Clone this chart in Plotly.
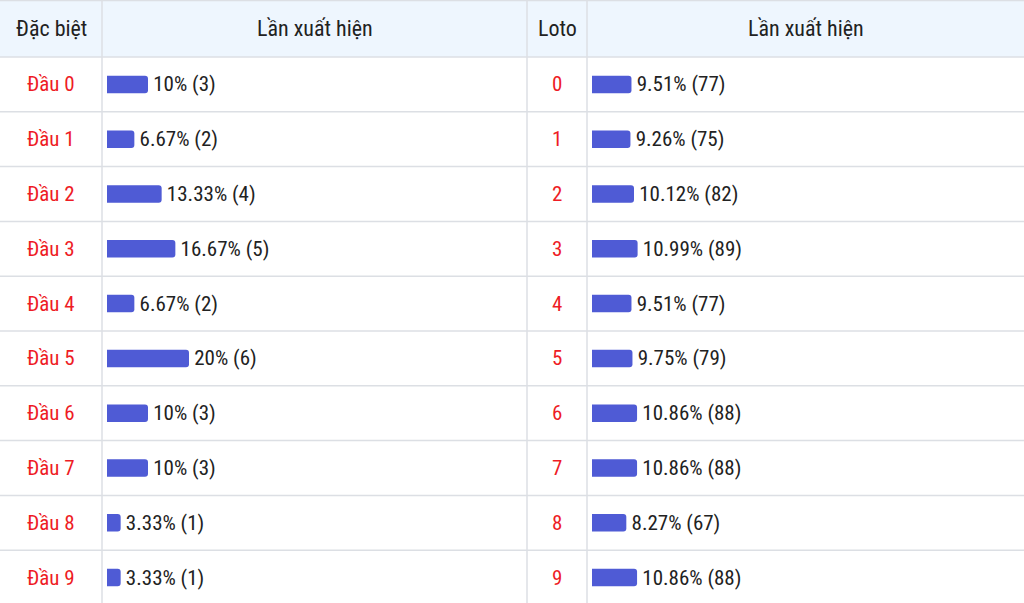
import plotly.graph_objects as go

# ---- data ----
db_labels = ["Đầu 0", "Đầu 1", "Đầu 2", "Đầu 3", "Đầu 4", "Đầu 5", "Đầu 6", "Đầu 7", "Đầu 8", "Đầu 9"]
db_pct = [10, 6.67, 13.33, 16.67, 6.67, 20, 10, 10, 3.33, 3.33]
db_pct_text = ["10%", "6.67%", "13.33%", "16.67%", "6.67%", "20%", "10%", "10%", "3.33%", "3.33%"]
db_count = [3, 2, 4, 5, 2, 6, 3, 3, 1, 1]

loto_labels = ["0", "1", "2", "3", "4", "5", "6", "7", "8", "9"]
loto_pct = [9.51, 9.26, 10.12, 10.99, 9.51, 9.75, 10.86, 10.86, 8.27, 10.86]
loto_count = [77, 75, 82, 89, 77, 79, 88, 88, 67, 88]

headers = ["Đặc biệt", "Lần xuất hiện", "Loto", "Lần xuất hiện"]

W, H = 1024, 603
FONT = "Liberation Sans Narrow, Roboto Condensed, Arial Narrow, Liberation Sans, Arial, sans-serif"
BAR = "#4f5bd5"
RED = "#ee1c25"
TXT = "#222222"
GRID = "#dcdfe4"

col_x = [0, 102, 527, 587, W]  # column borders (px)

rows = list(range(len(db_labels)))
ROW_PX = 54.8
HEADER_PX = 57
y_top = -0.5 - HEADER_PX / ROW_PX
y_bot = -0.5 + (H - HEADER_PX) / ROW_PX

fig = go.Figure()
fig.add_trace(go.Bar(
    x=db_pct, y=rows, orientation="h", xaxis="x", yaxis="y",
    marker=dict(color=BAR, line=dict(width=0)), width=0.32,
    text=[f"\u200a{t} ({c})" for t, c in zip(db_pct_text, db_count)],
    textposition="outside", constraintext="none", cliponaxis=False,
    textfont=dict(family=FONT, size=21, color=TXT), hoverinfo="skip"))
fig.add_trace(go.Bar(
    x=loto_pct, y=rows, orientation="h", xaxis="x2", yaxis="y",
    marker=dict(color=BAR, line=dict(width=0)), width=0.32,
    text=[f"\u200a{p:.2f}% ({c})" for p, c in zip(loto_pct, loto_count)],
    textposition="outside", constraintext="none", cliponaxis=False,
    textfont=dict(family=FONT, size=21, color=TXT), hoverinfo="skip"))

shapes = []
# header background
shapes.append(dict(type="rect", xref="paper", yref="y", x0=0, x1=1, y0=y_top, y1=-0.5,
                   fillcolor="#eef6fe", line=dict(width=0), layer="below"))
# horizontal grid lines
for i in range(-1, len(rows)):
    shapes.append(dict(type="line", xref="paper", yref="y", x0=0, x1=1, y0=i + 0.5, y1=i + 0.5,
                       line=dict(color=GRID, width=1.5), layer="below"))
shapes.append(dict(type="line", xref="paper", yref="paper", x0=0, x1=1, y0=0.999, y1=0.999,
                   line=dict(color=GRID, width=1.5), layer="below"))
# vertical lines
for xv in col_x[1:-1]:
    shapes.append(dict(type="line", xref="paper", yref="paper", x0=xv / W, x1=xv / W, y0=0, y1=1,
                       line=dict(color=GRID, width=1.5), layer="below"))

ann = []
centers = [(col_x[i] + col_x[i + 1]) / 2 / W for i in range(4)]
for h, cx in zip(headers, centers):
    ann.append(dict(text=h, x=cx, y=(y_top - 0.5) / 2, xref="paper", yref="y", showarrow=False,
                    font=dict(family=FONT, size=22, color=TXT), xanchor="center", yanchor="middle"))
for r, lab in zip(rows, db_labels):
    ann.append(dict(text=lab, x=centers[0], y=r, xref="paper", yref="y", showarrow=False,
                    font=dict(family=FONT, size=21, color=RED), xanchor="center", yanchor="middle"))
for r, lab in zip(rows, loto_labels):
    ann.append(dict(text=lab, x=centers[2], y=r, xref="paper", yref="y", showarrow=False,
                    font=dict(family=FONT, size=21, color=RED), xanchor="center", yanchor="middle"))

fig.update_layout(
    width=W, height=H, margin=dict(l=0, r=0, t=0, b=0),
    paper_bgcolor="white", plot_bgcolor="white", showlegend=False,
    barcornerradius=3,
    xaxis=dict(domain=[107 / W, (107 + 410) / W], range=[0, 100], visible=False, fixedrange=True),
    xaxis2=dict(domain=[592 / W, (592 + 415) / W], range=[0, 100], visible=False, fixedrange=True),
    yaxis=dict(range=[y_bot, y_top], visible=False, fixedrange=True),
    shapes=shapes, annotations=ann,
)

fig.write_html("out.html", config={"displayModeBar": False},
               post_script="document.body.style.margin='0';document.body.style.overflow='hidden';")
